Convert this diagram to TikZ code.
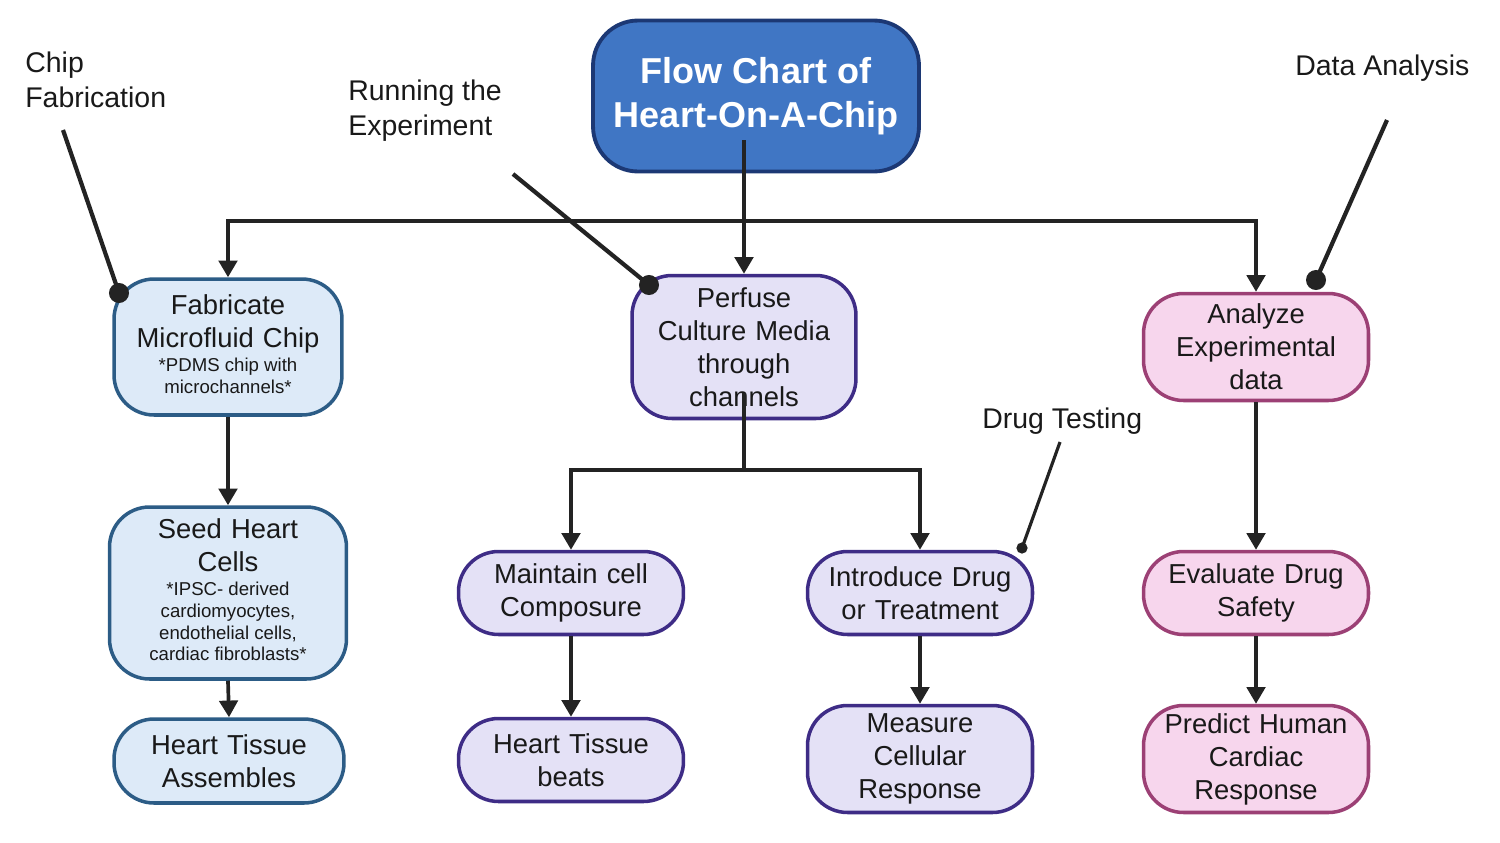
\documentclass[tikz,border=0pt]{standalone}
\usepackage{fontspec}
\setmainfont{Liberation Sans}
\usetikzlibrary{arrows.meta,positioning,calc}
\setlength\parindent{0pt}
\definecolor{titlefill}{RGB}{64,118,196}
\definecolor{titleline}{RGB}{28,56,116}
\definecolor{chipfill}{RGB}{221,234,248}
\definecolor{chipline}{RGB}{44,92,134}
\definecolor{runfill}{RGB}{228,225,246}
\definecolor{runline}{RGB}{62,44,134}
\definecolor{datafill}{RGB}{247,214,237}
\definecolor{dataline}{RGB}{156,64,117}
\definecolor{linec}{RGB}{35,35,35}
\definecolor{txt}{RGB}{25,25,25}
\newcommand{\smalltxt}{\fontsize{10.6}{12.3}\selectfont\spaceskip=0pt\xspaceskip=0pt}
\newcommand{\detail}[1]{\par\vspace{1.5pt}{\smalltxt\begin{tabular}[t]{@{}c@{}}#1\end{tabular}\par}}

\begin{document}
\begin{tikzpicture}[
    x=0.02cm, y=-0.02cm,
    box/.style={rectangle, rounded corners=0.8cm, line width=2pt, minimum width=4.5cm,
                text width=4.2cm, align=center, text=txt,
                font=\fontsize{15.6}{18.8}\selectfont},
    chip/.style={box, draw=chipline, fill=chipfill},
    run/.style={box, draw=runline, fill=runfill},
    data/.style={box, draw=dataline, fill=datafill},
    heading/.style={rectangle, rounded corners=0.9cm, line width=2.2pt, draw=titleline,
                    fill=titlefill, text=white, minimum width=6.52cm, minimum height=3.02cm,
                    align=center, font=\fontsize{20.5}{25}\selectfont\bfseries},
    note/.style={anchor=west, inner sep=0pt, align=left, text=txt,
                 font=\fontsize{16.2}{20}\selectfont},
    flow/.style={draw=linec, line width=2.1pt, -{Triangle[length=9.5pt,width=10.5pt]}},
    pin/.style={draw=linec, line width=2.4pt}
]
    \useasboundingbox (0,0) rectangle (1500,842);

    % Title
    \node[heading] (title) at (756,96) {Flow Chart of\\Heart-On-A-Chip};

    % Chip Fabrication
    \node[chip, minimum width=4.56cm, minimum height=2.72cm] (fab) at (228,347)
        {Fabricate\\Microfluid Chip\detail{*PDMS chip with\\microchannels*}};
    \node[chip, minimum width=4.74cm, minimum height=3.44cm] (seed) at (228,593)
        {Seed Heart\\Cells\detail{*IPSC- derived\\cardiomyocytes,\\endothelial cells,\\cardiac fibroblasts*}};
    \node[chip, minimum width=4.6cm, minimum height=1.68cm] (tissue) at (229,761)
        {Heart Tissue\\Assembles};

    % Running the Experiment
    \node[run, minimum width=4.48cm, minimum height=2.86cm] (perf) at (744,347)
        {Perfuse\\Culture Media\\through\\channels};
    \node[run, minimum height=1.66cm] (maint) at (571,593) {Maintain cell\\Composure};
    \node[run, minimum height=1.66cm] (beats) at (571,760) {Heart Tissue\\beats};
    \node[run, minimum height=1.66cm] (intro) at (920,593) {Introduce Drug\\or Treatment};
    \node[run, minimum height=2.14cm] (measure) at (920,759) {Measure\\Cellular\\Response};

    % Data Analysis
    \node[data, minimum height=2.14cm] (ana) at (1256,347) {Analyze\\Experimental\\data};
    \node[data, minimum height=1.66cm] (eval) at (1256,593) {Evaluate Drug\\Safety};
    \node[data, minimum height=2.14cm] (pred) at (1256,759) {Predict Human\\Cardiac\\Response};

    % Labels
    \node[note] (chipnote) at (25,80) {Chip\\Fabrication};
    \node[note] (runnote) at (348,111) {Running the\\Experiment};
    \node[note] (datanote) at (1295,68) {Data Analysis};
    \node[note] (drugnote) at (982,421) {Drug Testing};

    % Arrows
    \coordinate (tstem) at (744,140);
    \coordinate (bus) at (744,221);
    \draw[flow] (tstem) -- (perf.north);
    \draw[flow] (bus) -| (fab.north);
    \draw[flow] (bus) -| (ana.north);
    \draw[flow] (fab.south) -- (seed.north);
    \draw[flow] (seed.south) -- (tissue.north);

    \coordinate (pstem) at (744,393);
    \coordinate (split) at (744,470);
    \draw[draw=linec, line width=2.1pt] (pstem) -- (split);
    \draw[flow] (split) -| (maint.north);
    \draw[flow] (split) -| (intro.north);
    \draw[flow] (maint.south) -- (beats.north);
    \draw[flow] (intro.south) -- (measure.north);

    \draw[flow] (ana.south) -- (eval.north);
    \draw[flow] (eval.south) -- (pred.north);

    % Pointers
    \coordinate (chiptail) at (63,130);
    \coordinate (chipdot) at (119,293);
    \draw[pin] (chiptail) -- (chipdot);
    \fill[linec] (chipdot) circle[radius=5.7pt];

    \coordinate (runtail) at (513,174);
    \coordinate (rundot) at (649,285);
    \draw[pin] (runtail) -- (rundot);
    \fill[linec] (rundot) circle[radius=5.7pt];

    \coordinate (datatail) at (1387,120);
    \coordinate (datadot) at (1316,280);
    \draw[pin] (datatail) -- (datadot);
    \fill[linec] (datadot) circle[radius=5.7pt];

    \coordinate (drugtail) at (1060,442);
    \coordinate (drugdot) at (1022,548);
    \draw[pin, line width=1.8pt] (drugtail) -- (drugdot);
    \fill[linec] (drugdot) circle[radius=3.2pt];
\end{tikzpicture}
\end{document}
